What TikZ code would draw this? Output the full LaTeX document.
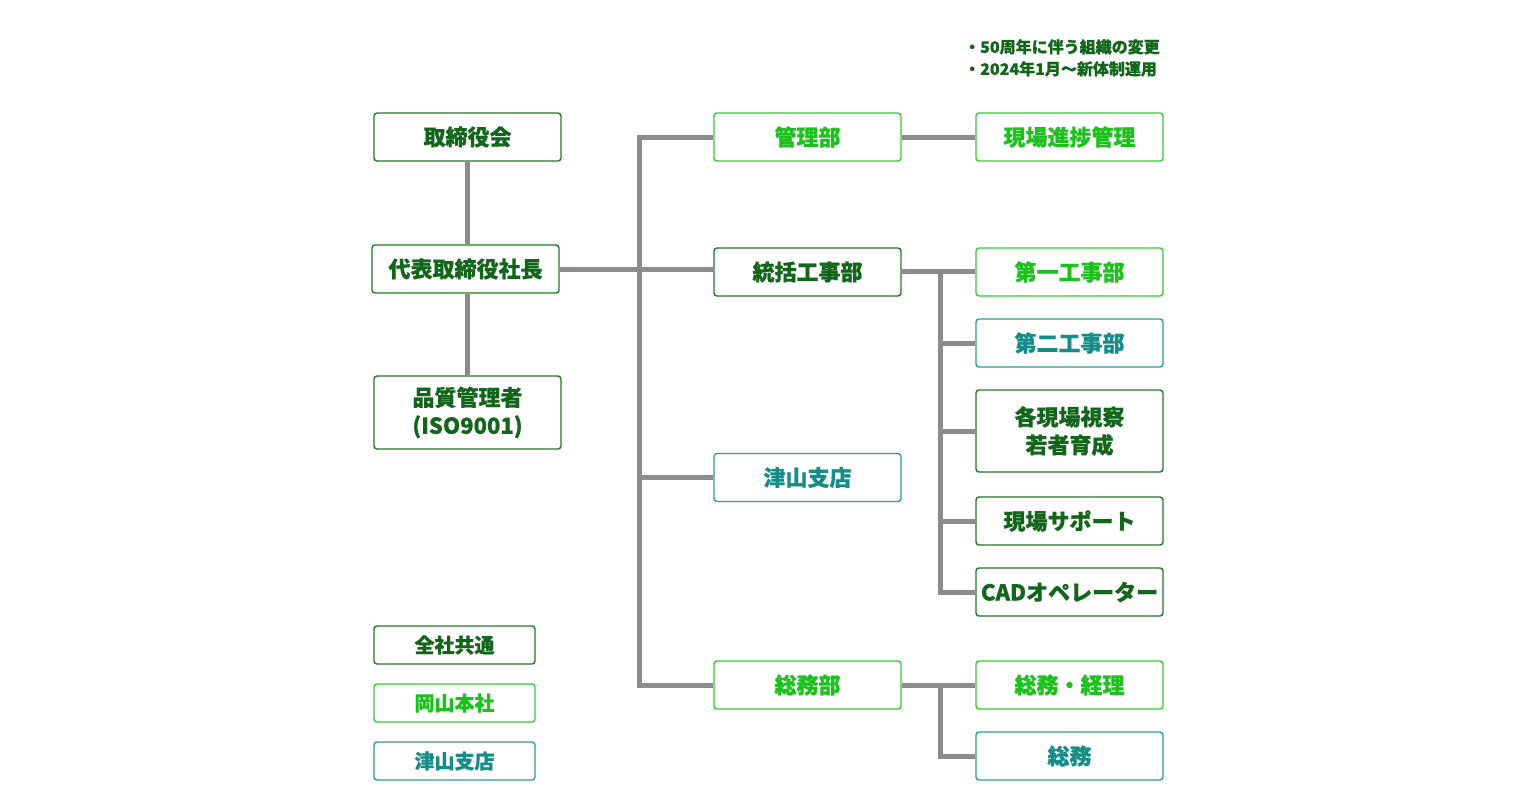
\documentclass[tikz,border=0pt]{standalone}
\usepackage{fontspec}
\setmainfont{Noto Sans CJK JP}[BoldFeatures={FakeBold=0.5}]
\usetikzlibrary{positioning,calc}
\definecolor{dgreen}{HTML}{1E7A23}
\definecolor{dgreentext}{HTML}{11661A}
\definecolor{lgreen}{HTML}{33CC33}
\definecolor{lgreentext}{HTML}{1CC21C}
\definecolor{teal}{HTML}{2A9D96}
\definecolor{tealtext}{HTML}{138D87}
\definecolor{linegray}{HTML}{8C8C8C}

\begin{document}
\begin{tikzpicture}[x=1pt, y=-1pt,
    box/.style={draw, line width=1.4pt, rounded corners=3pt, fill=white,
      minimum width=187pt, minimum height=48pt, align=center,
      font=\fontsize{22}{28}\selectfont\bfseries, inner sep=0pt},
    dbox/.style={box, draw=dgreen, text=dgreentext},
    gbox/.style={box, draw=lgreen, text=lgreentext},
    tbox/.style={box, draw=teal, text=tealtext},
    keybox/.style={minimum width=161pt, minimum height=38pt, font=\fontsize{20}{24}\selectfont\bfseries},
    conn/.style={draw=linegray, line width=5pt}]
        \useasboundingbox (0,0) rectangle (1536,806);
        %note
        \node[anchor=north west, text=dgreentext, align=left, inner sep=0pt,
          font=\fontsize{16}{22}\selectfont\bfseries] (note) at (964,39)
          {・50周年に伴う組織の変更\\・2024年1月〜新体制運用};
        %nodes
        \node[dbox] (board) at (467.5,137) {取締役会};
        \node[dbox] (pres) at (465.5,269) {代表取締役社長};
        \node[dbox, minimum height=73pt] (qm) at (467.5,412.5) {品質管理者\\(ISO9001)};
        \node[gbox] (kanri) at (807.5,137) {管理部};
        \node[dbox] (koji) at (807.5,272) {統括工事部};
        \node[tbox] (tsuyama) at (807.5,477.5) {津山支店};
        \node[gbox] (soumu) at (807.5,685) {総務部};
        \node[gbox] (progress) at (1069.5,137) {現場進捗管理};
        \node[gbox] (koji1) at (1069.5,272) {第一工事部};
        \node[tbox] (koji2) at (1069.5,343) {第二工事部};
        \node[dbox, minimum height=82pt] (visit) at (1069.5,431) {各現場視察\\若者育成};
        \node[dbox] (support) at (1069.5,521) {現場サポート};
        \node[dbox] (cad) at (1069.5,592) {CADオペレーター};
        \node[gbox] (account) at (1069.5,685) {総務・経理};
        \node[tbox] (general) at (1069.5,756) {総務};
        %legend
        \node[dbox, keybox] (keyall) at (454.5,645) {全社共通};
        \node[gbox, keybox] (keyhq) at (454.5,703) {岡山本社};
        \node[tbox, keybox] (keybr) at (454.5,761) {津山支店};
        %edges
        \coordinate (trunk) at (639,0);
        \coordinate (fork) at (940,0);
        \coordinate (spine) at (467,0);
        \path [conn] (spine |- board.south) -- (spine |- pres.north);
        \path [conn] (spine |- pres.south) -- (spine |- qm.north);
        \path [conn] (kanri.west) -| (trunk |- soumu.west) -- (soumu.west);
        \path [conn] (pres.east) -- (pres.east -| koji.west);
        \path [conn] (trunk |- tsuyama.west) -- (tsuyama.west);
        \path [conn] (kanri.east) -- (progress.west);
        \path [conn] ($(koji.east)+(0,-1)$) -- ($(koji1.west)+(0,-1)$);
        \path [conn] (fork |- koji1.west) |- (cad.west);
        \path [conn] (fork |- koji2.west) -- (koji2.west);
        \path [conn] (fork |- visit.west) -- (visit.west);
        \path [conn] (fork |- support.west) -- (support.west);
        \path [conn] (soumu.east) -- (account.west);
        \path [conn] (fork |- account.west) |- (general.west);
      \end{tikzpicture}
\end{document}
